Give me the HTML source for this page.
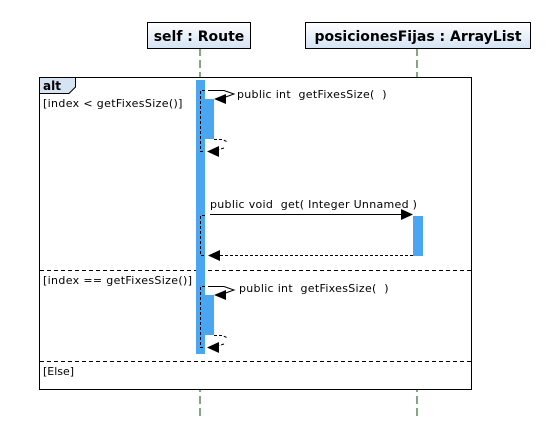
<!DOCTYPE html>
<html><head><style>
body{margin:0;background:#fff;width:549px;height:419px;overflow:hidden}
svg text{font-family:"DejaVu Sans","Liberation Sans",sans-serif}
</style></head><body>
<svg width="549" height="419" xmlns="http://www.w3.org/2000/svg">
<defs>
<linearGradient id="g" x1="0" y1="0" x2="0" y2="1"><stop offset="0" stop-color="#fff"/><stop offset="1" stop-color="#d5e3f3"/></linearGradient>
</defs>
<line x1="200" y1="48" x2="200" y2="419" stroke="#005500" stroke-dasharray="8,4"/>
<line x1="417" y1="48" x2="417" y2="419" stroke="#005500" stroke-dasharray="8,4"/>
<rect x="147.5" y="22.5" width="103" height="26" fill="url(#g)" stroke="#000"/>
<text x="199" y="41" font-size="14" font-weight="bold" text-anchor="middle">self : Route</text>
<rect x="305.5" y="22.5" width="225" height="26" fill="url(#g)" stroke="#000"/>
<text x="418" y="41" font-size="14" font-weight="bold" text-anchor="middle">posicionesFijas : ArrayList</text>
<rect x="39.5" y="77.5" width="432" height="312" fill="#fff" stroke="#000"/>
<path d="M39.5 77.5 H75.5 V87 L69 93.5 H39.5 Z" fill="#d5e3f3" stroke="#000"/>
<text x="43" y="90" font-size="12" font-weight="bold">alt</text>
<text x="43" y="107" font-size="11" letter-spacing="0.35">[index &lt; getFixesSize()]</text>
<text x="43" y="284" font-size="11" letter-spacing="0.35">[index == getFixesSize()]</text>
<text x="43" y="375" font-size="11">[Else]</text>
<line x1="40" y1="270.5" x2="471" y2="270.5" stroke="#000" stroke-dasharray="4,3"/>
<line x1="40" y1="361.5" x2="471" y2="361.5" stroke="#000" stroke-dasharray="4,3"/>
<rect x="196" y="80" width="9" height="274" fill="#4aa6f0"/>
<rect x="205" y="99" width="9" height="40" fill="#4aa6f0"/>
<rect x="205" y="295" width="9" height="40" fill="#4aa6f0"/>
<rect x="413" y="216" width="10" height="40" fill="#4aa6f0"/>
<g fill="none" stroke="#000">
<path d="M205 90.5 H200.5 V151.5 H205" stroke-dasharray="3,2"/>
<path d="M208 90.5 H224 L234 94 L220 99" />
<path d="M214 139.5 H222 L228 142 M224 148 L213 151.5" stroke-dasharray="3,2"/>
<path d="M205 286.5 H200.5 V347.5 H205" stroke-dasharray="3,2"/>
<path d="M208 286.5 H224 L234 290 L220 295" />
<path d="M214 335.5 H222 L228 338 M224 344 L213 347.5" stroke-dasharray="3,2"/>
<path d="M205 215.5 H200.5 V255.5 H205" stroke-dasharray="3,2"/>
<line x1="210" y1="214.5" x2="402" y2="214.5"/>
<line x1="413" y1="255.5" x2="218" y2="255.5" stroke-dasharray="3,2"/>
</g>
<g fill="#000">
<path d="M214 99 L226 94 L226 104 Z"/>
<path d="M207 151.5 L219 146 L219 157 Z"/>
<path d="M214 295 L226 290 L226 300 Z"/>
<path d="M207 347.5 L219 342 L219 353 Z"/>
<path d="M413 214.5 L401 209 L401 220 Z"/>
<path d="M208 255.5 L220 250 L220 261 Z"/>
</g>
<text xml:space="preserve" x="237" y="98" font-size="11" letter-spacing="0.3">public int  getFixesSize(  )</text>
<text xml:space="preserve" x="239" y="292" font-size="11" letter-spacing="0.3">public int  getFixesSize(  )</text>
<text xml:space="preserve" x="210" y="208" font-size="11" letter-spacing="0.3">public void  get( Integer Unnamed )</text>
</svg>
</body></html>
